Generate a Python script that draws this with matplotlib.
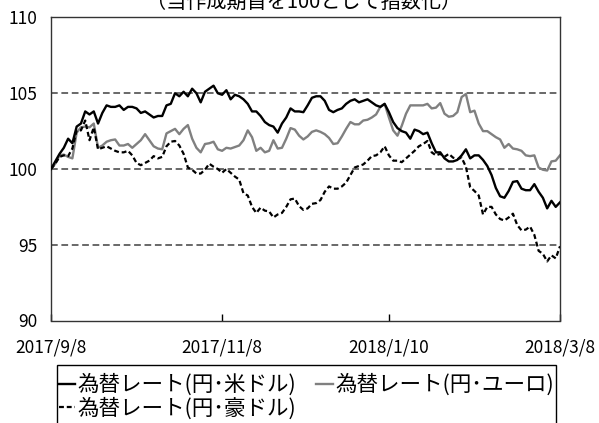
import matplotlib
matplotlib.use("Agg")
import matplotlib.pyplot as plt
from matplotlib.patches import Rectangle

plt.rcParams['font.family'] = ['Noto Sans CJK JP', 'DejaVu Sans']

title = "（当作成期首を100として指数化）"
series_names = ["為替レート(円･米ドル)", "為替レート(円･ユーロ)", "為替レート(円･豪ドル)"]
tick_pos = [0, 40, 79, 119]
tick_labels = ["2017/9/8", "2017/11/8", "2018/1/10", "2018/3/8"]

usd = [100.0, 100.5, 101.0, 101.4, 102.0, 101.7, 102.8, 103.0, 103.8, 103.6,
       103.8, 103.0, 103.7, 104.2, 104.1, 104.1, 104.2, 103.9, 104.1, 104.1,
       104.0, 103.7, 103.8, 103.6, 103.4, 103.5, 103.5, 104.2, 104.3, 105.0,
       104.8, 105.1, 104.8, 105.3, 105.0, 104.4, 105.1, 105.3, 105.5, 105.0,
       104.9, 105.2, 104.6, 104.9, 104.8, 104.6, 104.3, 103.8, 103.8, 103.5,
       103.1, 102.9, 102.8, 102.4, 103.0, 103.4, 104.0, 103.8, 103.8, 103.75,
       104.2, 104.7, 104.8, 104.8, 104.5, 103.9, 103.75, 103.9, 104.0, 104.3,
       104.5, 104.6, 104.4, 104.5, 104.6, 104.4, 104.2, 104.1, 104.3, 103.75,
       103.1, 102.7, 102.5, 102.4, 102.0, 102.6, 102.5, 102.3, 102.4, 101.7,
       101.1, 101.1, 100.7, 100.5, 100.5, 100.6, 100.9, 101.3, 100.7, 100.9,
       100.9, 100.6, 100.2, 99.6, 98.75, 98.2, 98.1, 98.55, 99.15, 99.2,
       98.7, 98.6, 98.6, 99.0, 98.5, 98.1, 97.4, 97.9, 97.5, 97.8]

eur = [100.0, 100.35, 100.9, 100.95, 100.8, 100.7, 102.4, 102.75, 102.8, 102.75,
       103.0, 101.4, 101.55, 101.8, 101.9, 101.95, 101.55, 101.55, 101.65, 101.4,
       101.65, 101.9, 102.3, 101.9, 101.5, 101.35, 101.3, 102.35, 102.5, 102.65,
       102.3, 102.65, 102.9, 102.0, 101.4, 101.1, 101.65, 101.7, 101.8, 101.3,
       101.2, 101.4, 101.35, 101.45, 101.55, 101.9, 102.55, 102.1, 101.2, 101.4,
       101.1, 101.2, 101.9, 101.35, 101.4, 102.0, 102.7, 102.6, 102.2, 101.95,
       102.15, 102.45, 102.55, 102.45, 102.3, 102.05, 101.65, 101.7, 102.15, 102.65,
       103.1, 102.95, 102.95, 103.2, 103.25, 103.4, 103.6, 104.1, 104.3, 103.4,
       102.55, 102.2, 102.85, 103.65, 104.2, 104.2, 104.2, 104.2, 104.3, 104.0,
       104.05, 104.35, 103.65, 103.45, 103.5, 103.75, 104.75, 104.95, 103.75, 103.85,
       103.0, 102.5, 102.5, 102.3, 102.1, 101.95, 101.4, 101.65, 101.35, 101.3,
       101.2, 100.9, 100.85, 100.9, 100.1, 99.95, 99.9, 100.5, 100.55, 100.9]

aud = [100.0, 100.35, 100.8, 100.9, 100.85, 101.35, 102.55, 102.55, 103.2, 101.9,
       102.75, 101.3, 101.4, 101.5, 101.35, 101.2, 101.1, 101.1, 101.2, 100.9,
       100.4, 100.25, 100.4, 100.55, 100.85, 100.7, 100.8, 101.5, 101.8, 101.85,
       101.55, 101.0, 100.1, 99.95, 99.7, 99.7, 99.95, 100.35, 100.15, 100.0,
       99.75, 100.0, 99.75, 99.5, 99.3, 98.4, 98.25, 97.5, 97.1, 97.45,
       97.25, 97.2, 96.8, 97.0, 97.1, 97.5, 98.0, 98.05, 97.55, 97.3,
       97.4, 97.7, 97.75, 97.95, 98.5, 98.85, 98.7, 98.7, 98.85, 99.1,
       99.6, 100.1, 100.2, 100.3, 100.55, 100.85, 100.9, 101.1, 101.5, 100.9,
       100.55, 100.55, 100.45, 100.7, 100.95, 101.2, 101.5, 101.65, 101.85, 101.1,
       100.9, 101.0, 100.8, 101.0, 100.75, 100.65, 100.75, 100.15, 98.8, 98.55,
       98.25, 97.0, 97.5, 97.5, 97.0, 96.7, 96.6, 96.8, 97.05, 96.3,
       95.95, 96.0, 96.2, 95.65, 94.6, 94.4, 93.9, 94.3, 94.1, 94.9]

W, H = 599, 423
fig = plt.figure(figsize=(W / 100, H / 100), dpi=100)
ax = fig.add_axes([51 / W, 1 - 320.5 / H, (560 - 51) / W, (320.5 - 17.5) / H])

x = list(range(len(usd)))
for yv in [95, 100, 105]:
    ax.axhline(yv, color='#404040', lw=1.1, ls=(0, (4.4, 2.4)), zorder=1)

l_usd, = ax.plot(x, usd, color='black', lw=1.7, zorder=3)
l_eur, = ax.plot(x, eur, color='#808080', lw=1.7, zorder=2)
l_aud, = ax.plot(x, aud, color='black', lw=1.6, ls=(0, (2.2, 1.3)), zorder=3)

ax.set_xlim(0, len(usd) - 1)
ax.set_ylim(90, 110)
ax.set_yticks([90, 95, 100, 105, 110])
ax.set_xticks(tick_pos)
ax.set_xticklabels(tick_labels)
ax.tick_params(axis='y', length=0, pad=10, labelsize=12.5)
ax.tick_params(axis='x', direction='in', length=5, width=1, pad=13, labelsize=12.5)
for s in ax.spines.values():
    s.set_color('#333333')
    s.set_linewidth(1.0)

fig.text(304 / W, 1 - 8 / H, title, ha='center', va='baseline', fontsize=14.5)

# legend frame (open at the bottom edge of the image, like the reference)
fig.add_artist(Rectangle((56.5 / W, -0.05), (556 - 56.5) / W, 1.05 - 365 / H,
                         transform=fig.transFigure, fill=False,
                         edgecolor='black', lw=1.0))

handles = [l_usd, l_aud, l_eur]
labels = [series_names[0], series_names[2], series_names[1]]
leg = fig.legend(handles, labels, ncol=2, loc='upper left',
                 bbox_to_anchor=(56.5 / W, 1 - 376 / H, (556 - 56.5) / W, 0.01),
                 mode='expand', fontsize=15.5, frameon=False,
                 handlelength=0.75, handletextpad=0.12,
                 columnspacing=0.2, borderpad=0.1, borderaxespad=0,
                 labelspacing=0.05)

fig.savefig('out.png', dpi=100)
